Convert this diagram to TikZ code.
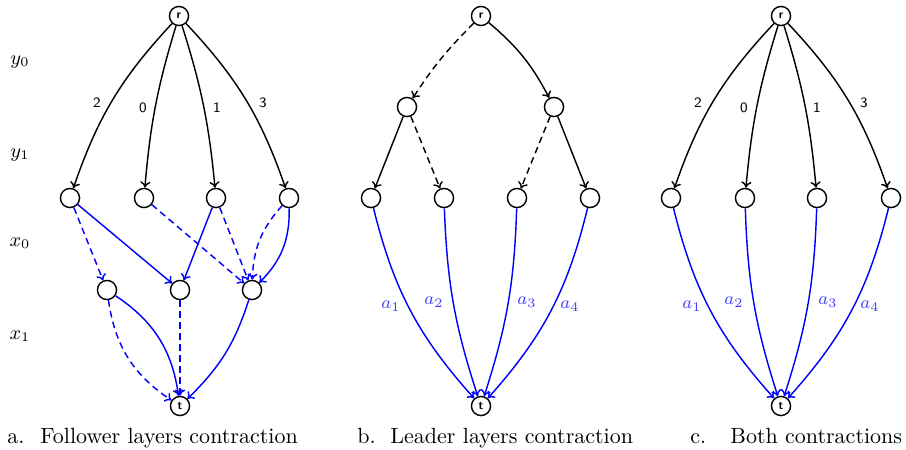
\documentclass[tikz,border=0pt]{standalone}
\usetikzlibrary{arrows.meta}
\begin{document}
\begin{tikzpicture}[x=0.4545pt,y=-0.4545pt,
  vtx/.style={circle,draw,line width=0.65pt,minimum size=8.7pt,inner sep=0pt,
    font=\fontsize{5.5}{7}\selectfont\sffamily\bfseries},
  arc/.style={line width=0.65pt,-{To[length=2.8pt,width=4.6pt]}},
  lead/.style={arc,black},
  foll/.style={arc,blue},
  dsh/.style={dash pattern=on 3pt off 2pt},
  num/.style={font=\fontsize{6.5}{8}\selectfont\sffamily},
  alab/.style={text=blue!75,font=\footnotesize},
  ylab/.style={font=\small},
  captxt/.style={anchor=base west,inner sep=0pt,font=\normalsize}]
\useasboundingbox (0,0) rectangle (906,450);

% layer labels
\node[ylab] (ly0) at (20,62)  {$y_0$};
\node[ylab] (ly1) at (20,155) {$y_1$};
\node[ylab] (lx0) at (20,243) {$x_0$};
\node[ylab] (lx1) at (20,336) {$x_1$};

% ---------- (a) follower layers contraction ----------
\node[vtx] (ar)  at (179,16) {r};
\node[vtx] (an1) at (70,198)  {};
\node[vtx] (an2) at (144,198) {};
\node[vtx] (an3) at (216,198) {};
\node[vtx] (an4) at (289,198) {};
\node[vtx] (am1) at (107,290) {};
\node[vtx] (am2) at (180,290) {};
\node[vtx] (am3) at (252,290) {};
\node[vtx] (at)  at (180,406) {t};

\draw[lead] (ar) to[bend right=12] (an1);
\draw[lead] (ar) to[bend right=6] (an2);
\draw[lead] (ar) to[bend left=6] (an3);
\draw[lead] (ar) to[bend left=12] (an4);
\node[num] (ta2) at (97,103)  {2};
\node[num] (ta0) at (143,108) {0};
\node[num] (ta1) at (217,108) {1};
\node[num] (ta3) at (263,103) {3};

\draw[foll,dsh] (an1) -- (am1);
\draw[foll]     (an1) -- (am2);
\draw[foll,dsh] (an2) -- (am3);
\draw[foll]     (an3) -- (am2);
\draw[foll,dsh] (an3) -- (am3);
\draw[foll,dsh] (an4) to[bend right=20] (am3);
\draw[foll]     (an4) to[bend left=23] (am3);
\draw[foll]     (am1) to[bend left=24] (at);
\draw[foll,dsh] (am1) to[bend right=24] (at);
\draw[foll,dsh] (am2) -- (at);
\draw[foll]     (am3) to[bend left=14] (at);

\node[captxt] (capa)  at (7,443)  {a.};
\node[captxt] (capat) at (40,443) {Follower layers contraction};

% ---------- (b) leader layers contraction ----------
\node[vtx] (br)  at (481,16)  {r};
\node[vtx] (bl)  at (407,107) {};
\node[vtx] (brr) at (554,107) {};
\node[vtx] (bn1) at (371,198) {};
\node[vtx] (bn2) at (444,198) {};
\node[vtx] (bn3) at (517,198) {};
\node[vtx] (bn4) at (590,198) {};
\node[vtx] (bt)  at (481,406) {t};

\draw[lead,dsh] (br) to[bend right=6] (bl);
\draw[lead]     (br) to[bend left=11] (brr);
\draw[lead]     (bl) -- (bn1);
\draw[lead,dsh] (bl) -- (bn2);
\draw[lead,dsh] (brr) -- (bn3);
\draw[lead]     (brr) -- (bn4);

\draw[foll] (bn1) to[bend right=14] (bt);
\draw[foll] (bn2) to[bend right=8] (bt);
\draw[foll] (bn3) to[bend left=8] (bt);
\draw[foll] (bn4) to[bend left=14] (bt);
\node[alab] (ba1) at (391,306) {$a_1$};
\node[alab] (ba2) at (434,302) {$a_2$};
\node[alab] (ba3) at (527,302) {$a_3$};
\node[alab] (ba4) at (570,306) {$a_4$};

\node[captxt] (capb)  at (357,443) {b.};
\node[captxt] (capbt) at (390,443) {Leader layers contraction};

% ---------- (c) both contractions ----------
\node[vtx] (cr)  at (781,16)  {r};
\node[vtx] (cn1) at (671,198) {};
\node[vtx] (cn2) at (745,198) {};
\node[vtx] (cn3) at (817,198) {};
\node[vtx] (cn4) at (891,198) {};
\node[vtx] (ct)  at (781,406) {t};

\draw[lead] (cr) to[bend right=12] (cn1);
\draw[lead] (cr) to[bend right=6] (cn2);
\draw[lead] (cr) to[bend left=6] (cn3);
\draw[lead] (cr) to[bend left=12] (cn4);
\node[num] (tc2) at (698,103) {2};
\node[num] (tc0) at (744,108) {0};
\node[num] (tc1) at (817,108) {1};
\node[num] (tc3) at (864,103) {3};

\draw[foll] (cn1) to[bend right=14] (ct);
\draw[foll] (cn2) to[bend right=8] (ct);
\draw[foll] (cn3) to[bend left=8] (ct);
\draw[foll] (cn4) to[bend left=14] (ct);
\node[alab] (ca1) at (692,306) {$a_1$};
\node[alab] (ca2) at (734,302) {$a_2$};
\node[alab] (ca3) at (828,302) {$a_3$};
\node[alab] (ca4) at (870,306) {$a_4$};

\node[captxt] (capc)  at (690,443) {c.};
\node[captxt] (capct) at (730,443) {Both contractions};
\end{tikzpicture}
\end{document}
